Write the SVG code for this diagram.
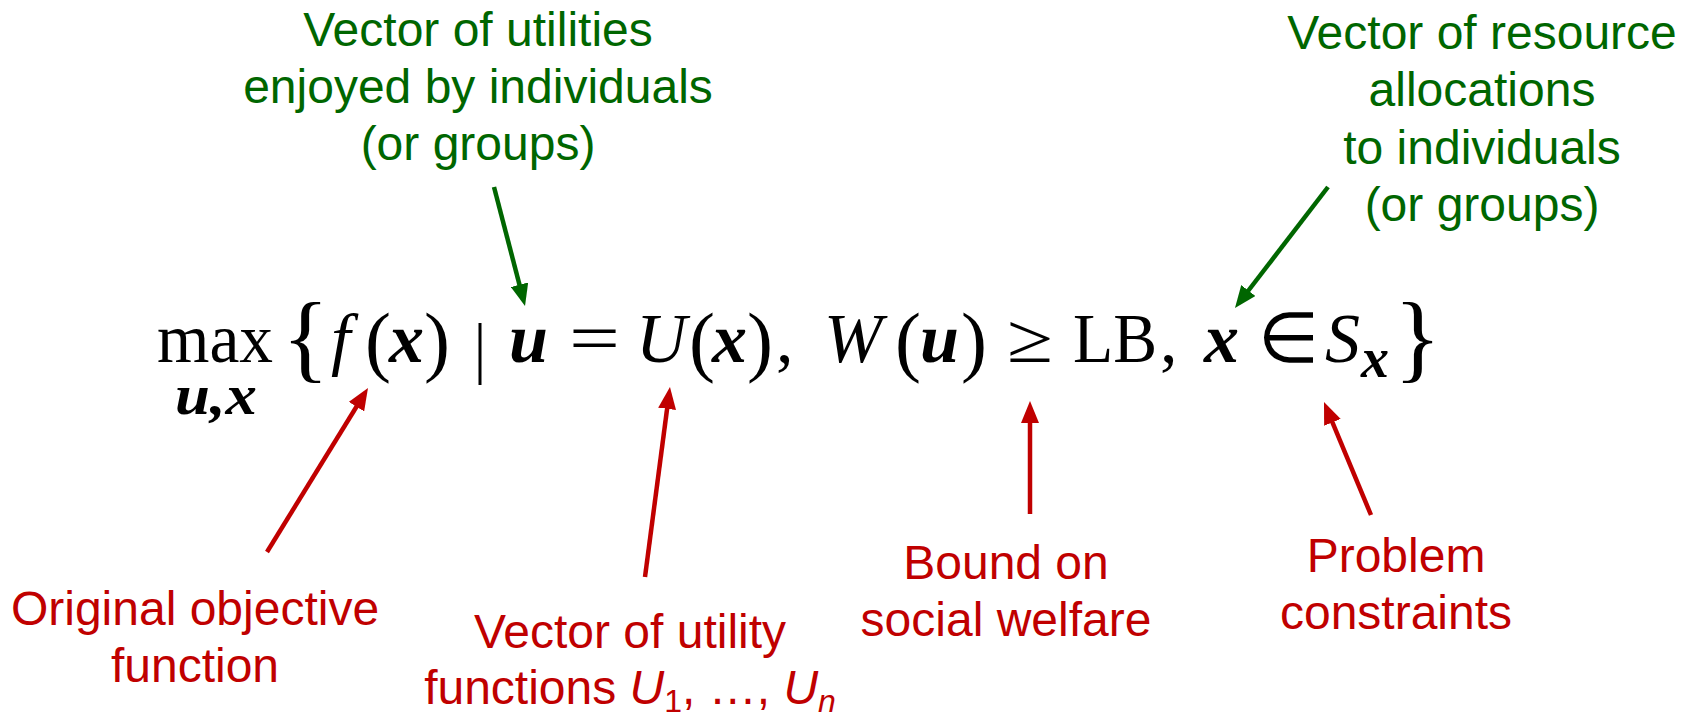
<svg xmlns="http://www.w3.org/2000/svg" width="1691" height="719" viewBox="0 0 1691 719">
<defs>
<style>
.lbl{font-family:"Liberation Sans",Arial,sans-serif;font-size:48px;text-anchor:middle}
.g{fill:#006600}
.r{fill:#C00000}
.m{font-family:"Liberation Serif","Times New Roman",serif;font-size:70px;fill:#000}
.p{font-size:78px}
.br{font-size:98px}
.it{font-style:italic}
.bi{font-style:italic;font-weight:bold}
.sub{font-size:56px}
.cg{stroke:#006600;stroke-width:4.5;fill:none}
.cr{stroke:#C00000;stroke-width:4.5;fill:none}
</style>
<marker id="ag" markerUnits="userSpaceOnUse" viewBox="0 0 22 18" markerWidth="22" markerHeight="18" refX="10" refY="9" orient="auto"><path d="M0,0 L22,9 L0,18 z" fill="#006600"/></marker>
<marker id="ar" markerUnits="userSpaceOnUse" viewBox="0 0 22 18" markerWidth="22" markerHeight="18" refX="10" refY="9" orient="auto"><path d="M0,0 L22,9 L0,18 z" fill="#C00000"/></marker>
</defs>
<rect width="1691" height="719" fill="#fff"/>

<g id="formula">
<text class="m" x="157" y="362" textLength="116" lengthAdjust="spacingAndGlyphs">max</text>
<text class="m bi sub" x="175" y="414" textLength="82" lengthAdjust="spacingAndGlyphs">u,x</text>
<text class="m br" x="282" y="370">{</text>
<text class="m it" x="331" y="362">f</text>
<text class="m p" x="365" y="367">(</text>
<text class="m bi" x="389" y="362">x</text>
<text class="m p" x="424" y="367">)</text>
<line x1="480" y1="323" x2="480" y2="385" stroke="#000" stroke-width="3"/>
<text class="m bi" x="509" y="362">u</text>
<text class="m" x="569" y="362" textLength="51" lengthAdjust="spacingAndGlyphs">=</text>
<text class="m it" x="636" y="362">U</text>
<text class="m p" x="689" y="367">(</text>
<text class="m bi" x="712" y="362">x</text>
<text class="m p" x="747" y="367">)</text>
<text class="m" x="776" y="362">,</text>
<text class="m it" x="824" y="362">W</text>
<text class="m p" x="895" y="367">(</text>
<text class="m bi" x="920" y="362">u</text>
<text class="m p" x="961" y="367">)</text>
<text class="m" x="1007" y="362" textLength="46" lengthAdjust="spacingAndGlyphs">≥</text>
<text class="m" x="1073" y="362" textLength="84" lengthAdjust="spacingAndGlyphs">LB</text>
<text class="m" x="1160" y="362">,</text>
<text class="m bi" x="1204" y="362">x</text>
<text class="m" x="1258" y="362">∈</text>
<text class="m it" x="1325" y="362">S</text>
<text class="m bi sub" x="1361" y="377">x</text>
<text class="m br" x="1394" y="370">}</text>
</g>

<g id="connectors">
<line class="cg" x1="494" y1="187" x2="522.0" y2="294.4" marker-end="url(#ag)"/>
<line class="cg" x1="1328" y1="187" x2="1242.3" y2="298.5" marker-end="url(#ag)"/>
<line class="cr" x1="267" y1="552" x2="361.7" y2="398.2" marker-end="url(#ar)"/>
<line class="cr" x1="645" y1="577" x2="668.4" y2="398.9" marker-end="url(#ar)"/>
<line class="cr" x1="1030" y1="514" x2="1030" y2="413" marker-end="url(#ar)"/>
<line class="cr" x1="1371" y1="515" x2="1328.6" y2="413.1" marker-end="url(#ar)"/>
</g>

<g id="utilities-label">
<text class="lbl g" x="478" y="46">Vector of utilities</text>
<text class="lbl g" x="478" y="103">enjoyed by individuals</text>
<text class="lbl g" x="478" y="160">(or groups)</text>
</g>

<g id="allocations-label">
<text class="lbl g" x="1482" y="49">Vector of resource</text>
<text class="lbl g" x="1482" y="106">allocations</text>
<text class="lbl g" x="1482" y="164">to individuals</text>
<text class="lbl g" x="1482" y="221">(or groups)</text>
</g>

<g id="objective-label">
<text class="lbl r" x="195" y="625">Original objective</text>
<text class="lbl r" x="195" y="682">function</text>
</g>

<g id="utility-functions-label">
<text class="lbl r" x="630" y="648">Vector of utility</text>
<text class="lbl r" x="630" y="704">functions <tspan font-style="italic">U</tspan><tspan font-size="32" dy="8">1</tspan><tspan dy="-8">, …, </tspan><tspan font-style="italic">U</tspan><tspan font-size="32" font-style="italic" dy="8">n</tspan></text>
</g>

<g id="bound-label">
<text class="lbl r" x="1006" y="579">Bound on</text>
<text class="lbl r" x="1006" y="636">social welfare</text>
</g>

<g id="constraints-label">
<text class="lbl r" x="1396" y="572">Problem</text>
<text class="lbl r" x="1396" y="629">constraints</text>
</g>
</svg>
